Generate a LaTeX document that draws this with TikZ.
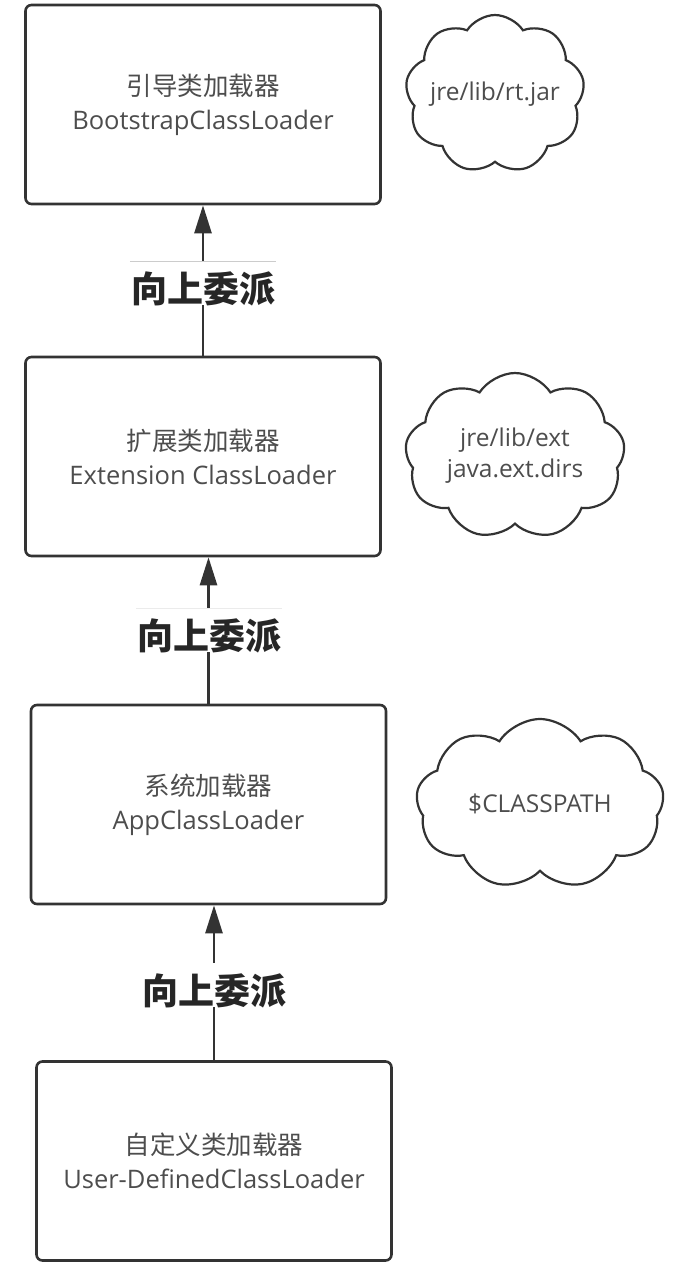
\documentclass[tikz,border=0pt]{standalone}
\usepackage{fontspec}
\setmainfont{Open Sans}
\newfontfamily\cjk{Noto Sans CJK SC}
\usetikzlibrary{shapes.symbols,arrows.meta}
\definecolor{linegray}{HTML}{333333}
\definecolor{textgray}{HTML}{4D4D4D}
\tikzset{
  loaderbox/.style={draw=linegray, line width=2.6pt, rounded corners=6pt, minimum width=355pt, minimum height=199pt, align=center, text=textgray, font=\fontsize{25.5}{34}\selectfont},
  pathcloud/.style={draw=linegray, cloud, cloud puffs=9, cloud puff arc=115, cloud ignores aspect, line width=2.2pt, align=center, text=textgray, font=\fontsize{24.5}{31}\selectfont, inner sep=0pt},
  uplabel/.style={anchor=north, fill=white, inner sep=0pt, minimum width=146pt, text height=41pt, text depth=3pt, text=black!85, font=\cjk\bfseries\fontsize{36}{36}\selectfont},
  topline/.style={append after command={(\tikzlastnode.north west) edge[draw=black!#1, line width=1pt] (\tikzlastnode.north east)}},
  uparrow/.style={draw=linegray, line width=2.6pt, -{Triangle[length=28pt,width=17pt]}}
}
\begin{document}
\begin{tikzpicture}[x=1pt,y=-1pt]
            \useasboundingbox (0,0) rectangle (686,1267);
            \node(boot) at (203,104.5) [loaderbox] {{\cjk 引导类加载器}\\BootstrapClassLoader};
            \node(ext) at (203,456.5) [loaderbox] {{\cjk 扩展类加载器}\\Extension ClassLoader};
            \node(app) at (208.5,804.5) [loaderbox] {{\cjk 系统加载器}\\AppClassLoader};
            \node(user) at (214,1161) [loaderbox] {{\cjk 自定义类加载器}\\User-DefinedClassLoader};

            \node(rtjar) at (495,94) [pathcloud, minimum width=178pt, minimum height=158pt] {jre/lib/rt.jar};
            \node(extdirs) at (515,456) [pathcloud, minimum width=220pt, minimum height=166pt] {jre/lib/ext\\java.ext.dirs};
            \node(classpath) at (540,804) [pathcloud, minimum width=248pt, minimum height=170pt] {\$CLASSPATH};

            \draw[uparrow] (ext.north) -- (ext.north |- boot.south);
            \draw[uparrow] (app.north) -- (app.north |- ext.south);
            \draw[uparrow] (user.north) -- (user.north |- app.south);

            \node(up1) at (203,261) [uplabel, topline=20] {向上委派};
            \node(up2) at (209,608) [uplabel, topline=8] {向上委派};
            \node(up3) at (214,963) [uplabel] {向上委派};
\end{tikzpicture}
\end{document}
